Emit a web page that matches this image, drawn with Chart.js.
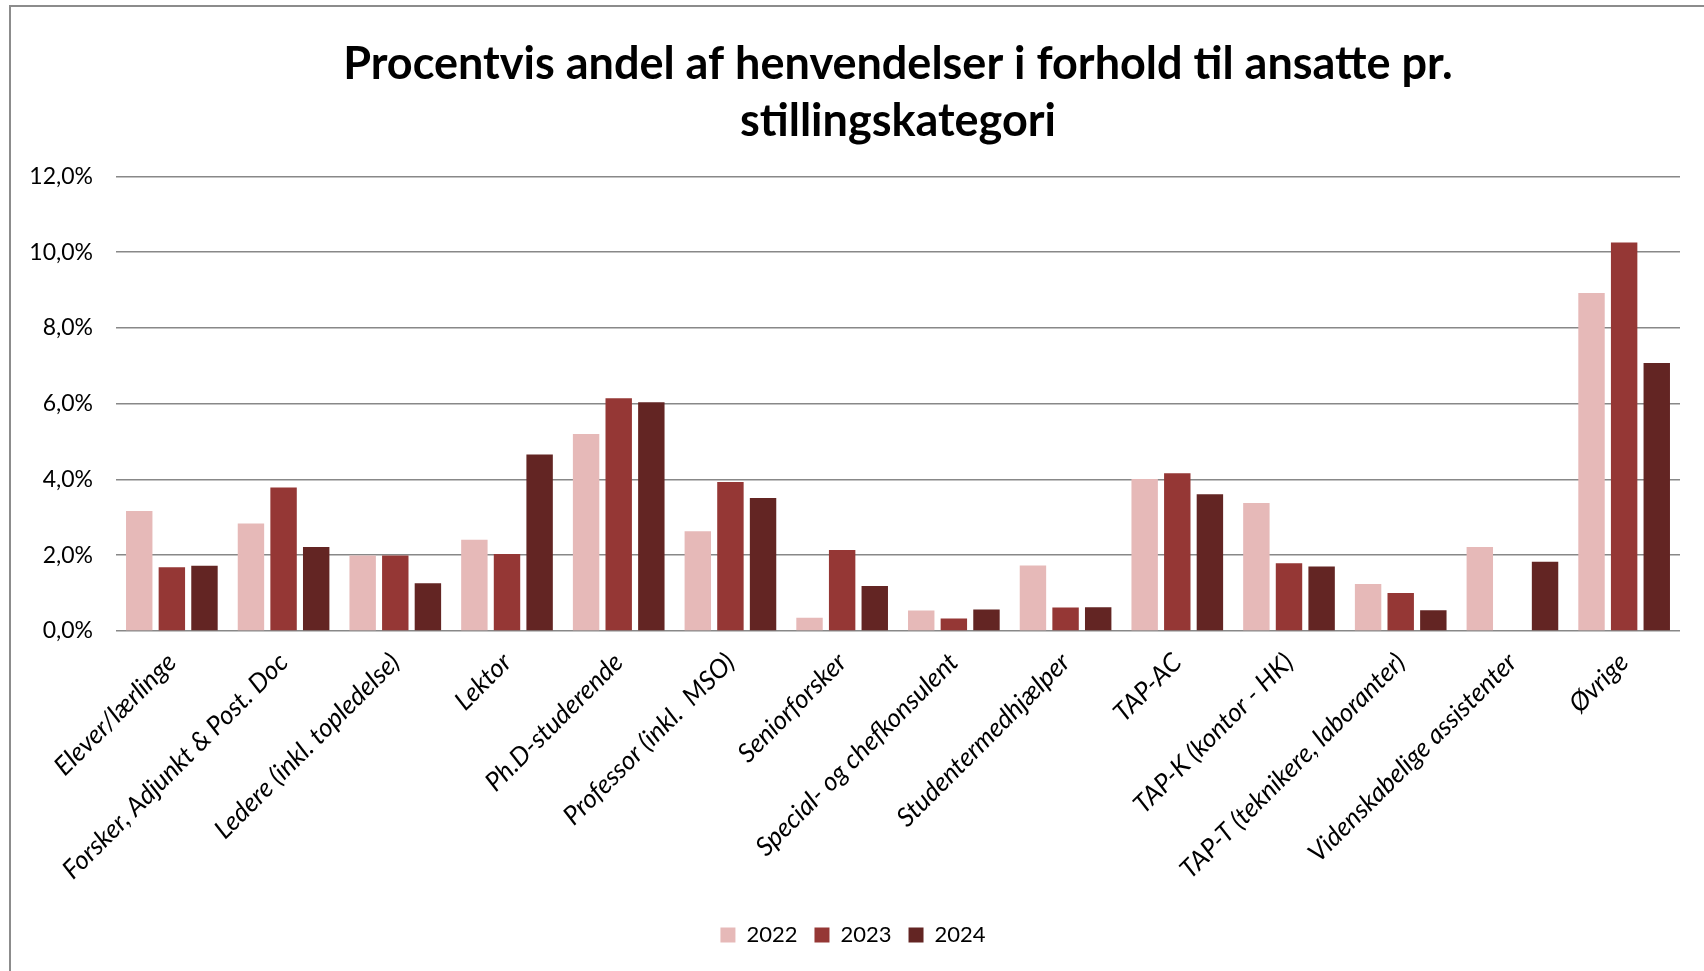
<!DOCTYPE html>
<html>
<head>
<meta charset="utf-8">
<script src="https://cdn.jsdelivr.net/npm/chart.js@4.4.1/dist/chart.umd.min.js"></script>
<style>
  html, body { margin: 0; padding: 0; background: #fff; overflow: hidden; }
  #frame {
    position: absolute; left: 9px; top: 5px; width: 1800px; height: 1100px;
    border-left: 2px solid #8c8c8c; border-top: 2px solid #8c8c8c;
  }
  #wrap { position: absolute; left: 0; top: 0; width: 1704px; height: 971px; }
</style>
</head>
<body>
<div id="frame"></div>
<div id="wrap"><canvas id="chart" width="1704" height="971"></canvas></div>
<script>
const categories = [
    'Elever/lærlinge',
    'Forsker, Adjunkt & Post. Doc',
    'Ledere (inkl. topledelse)',
    'Lektor',
    'Ph.D-studerende',
    'Professor (inkl.  MSO)',
    'Seniorforsker',
    'Special- og chefkonsulent',
    'Studentermedhjælper',
    'TAP-AC',
    'TAP-K (kontor - HK)',
    'TAP-T (teknikere, laboranter)',
    'Videnskabelige assistenter',
    'Øvrige'
];

// percent values
const y2022 = [3.17, 2.84, 1.99, 2.41, 5.20, 2.63, 0.35, 0.54, 1.73, 4.01, 3.38, 1.24, 2.22, 8.92];
const y2023 = [1.68, 3.79, 1.99, 2.03, 6.14, 3.93, 2.14, 0.33, 0.62, 4.16, 1.79, 1.00, null, 10.25];
const y2024 = [1.72, 2.22, 1.26, 4.66, 6.04, 3.51, 1.19, 0.57, 0.63, 3.61, 1.70, 0.55, 1.83, 7.07];

const yTicks = [0, 2, 4, 6, 8, 10, 12];

const font = 'Lato';
const padLeft = 26;
const ctx = document.getElementById('chart');

const data = {
    labels: categories,
    datasets: [
        { label: '2022', data: y2022, backgroundColor: '#e6b9b8' },
        { label: '2023', data: y2023, backgroundColor: '#953735' },
        { label: '2024', data: y2024, backgroundColor: '#632523' }
    ]
};

const config = {
    type: 'bar',
    data: data,
    options: {
        responsive: false,
        animation: false,
        datasets: {
            bar: { categoryPercentage: 0.876, barPercentage: 0.81 }
        },
        layout: { padding: { left: padLeft, right: 24, top: 0, bottom: 15 } },
        plugins: {
            title: {
                display: true,
                fullSize: false,
                text: ['Procentvis andel af henvendelser i forhold til ansatte pr.', 'stillingskategori'],
                color: '#000',
                font: { family: font, size: 45, weight: 'bold', lineHeight: 1.27 },
                padding: { top: 36, bottom: 26 }
            },
            legend: {
                position: 'bottom',
                labels: {
                    color: '#000',
                    font: { family: font, size: 22 },
                    boxWidth: 15,
                    boxHeight: 15,
                    padding: 17
                }
            },
            tooltip: { enabled: false }
        },
        scales: {
            x: {
                grid: { display: false },
                border: { display: false },
                ticks: {
                    autoSkip: false,
                    maxRotation: 45,
                    minRotation: 45,
                    padding: 8,
                    color: '#000',
                    font: { family: font, size: 26, style: 'italic' }
                },
                afterFit(scale) { scale.height = 276; }
            },
            y: {
                min: 0,
                max: 12,
                afterBuildTicks(scale) { scale.ticks = yTicks.map(v => ({ value: v })); },
                grid: { color: '#888', lineWidth: 1.5, drawTicks: false },
                border: { display: false },
                ticks: {
                    padding: 23,
                    color: '#000',
                    font: { family: font, size: 23 },
                    callback: v => v.toFixed(1).replace('.', ',') + '%'
                },
                afterFit(scale) { scale.width = 116 - padLeft; }
            }
        }
    }
};

new Chart(ctx, config);
</script>
</body>
</html>
